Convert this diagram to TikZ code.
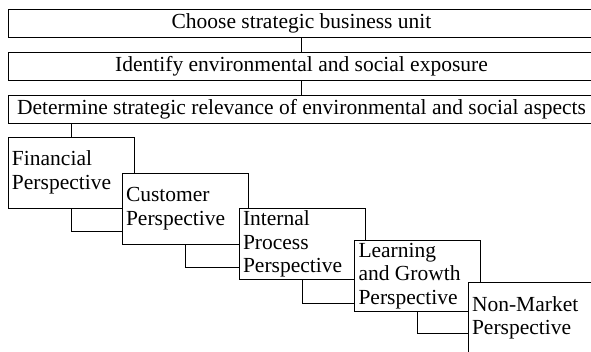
\documentclass[tikz,border=0pt]{standalone}
\usepackage{fontspec}
\setmainfont{Liberation Serif}
\usepackage{tikz}

\begin{document}
\begin{tikzpicture}[x=1pt,y=-1pt,font=\fontsize{21.5}{23.5}\selectfont]
  \tikzstyle{stage}=[draw, line width=0.8pt, fill=white, minimum width=587pt, minimum height=28pt, inner sep=0pt]
  \tikzstyle{persp}=[draw, line width=0.8pt, fill=white, minimum width=126pt, minimum height=71pt,
    text width=118pt, inner xsep=4pt, inner ysep=0pt, align=flush left]
  \tikzstyle{link}=[line width=0.8pt]

  \useasboundingbox (0,0) rectangle (591,351);
  \begin{scope}
  \clip (0,0) rectangle (591,351);

  % the three steps on top
  \node[stage] (choose)   at (301.5,23)    {Choose strategic business unit};
  \node[stage] (identify) at (301.5,66)    {Identify environmental and social exposure};
  \node[stage] (relev)    at (301.5,109.5) {Determine strategic relevance of environmental and social aspects};
  \draw[link] (choose.south) -- (identify.north);
  \draw[link] (identify.south) -- (relev.north);

  % staircase of perspectives
  \node[persp] (fin)   at (71,172.5)  {Financial\\Perspective};
  \node[persp] (cust)  at (185,208.5) {Customer\\Perspective};
  \node[persp] (int)   at (302,244)   {Internal\\Process\\Perspective};
  \node[persp] (learn) at (417.5,276) {Learning\\and Growth\\Perspective};
  \node[persp] (non)   at (531,318)   {Non-Market\\Perspective};
  \draw[link] (relev.south -| fin.north) -- (fin.north);

  \foreach \a/\b/\d in {fin/cust/59,cust/int/59,int/learn/63,learn/non/51}
    \draw[link] (\a.south) |- ([yshift=-\d pt]\b.north west);
  \end{scope}
\end{tikzpicture}
\end{document}
